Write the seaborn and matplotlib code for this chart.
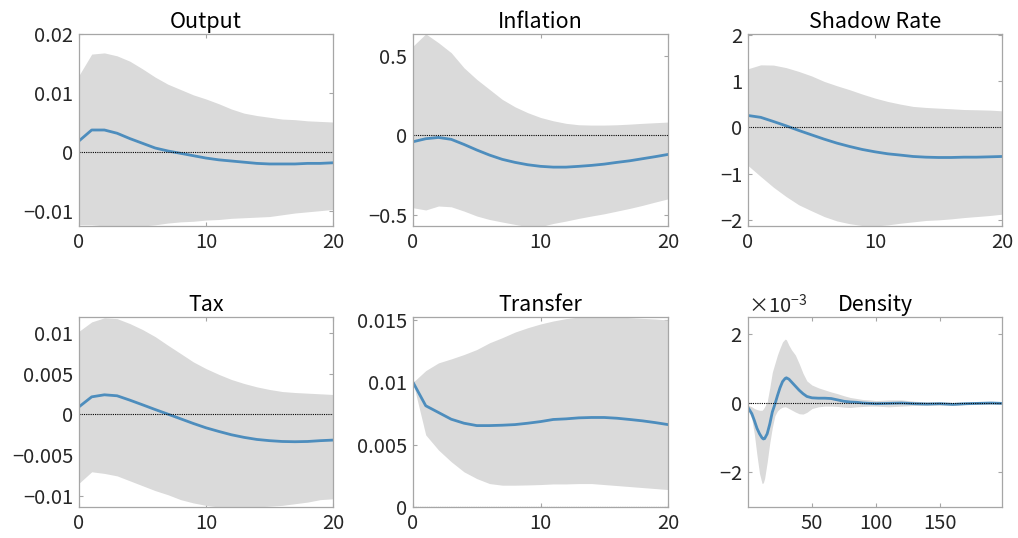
import numpy as np
import pandas as pd
import matplotlib
matplotlib.use("Agg")
import matplotlib.pyplot as plt
from matplotlib.ticker import FuncFormatter, ScalarFormatter
import seaborn as sns

# ---------------------------------------------------------------------------
# Impulse responses: posterior median with 68% credible band, horizons 0..20
# ---------------------------------------------------------------------------
horizon = list(range(21))

output_mid = [0.0019, 0.00375, 0.00375, 0.0032, 0.0023, 0.0015, 0.0007, 0.0002,
              -0.0002, -0.0006, -0.0010, -0.0013, -0.0015, -0.0017, -0.0019,
              -0.0020, -0.0020, -0.0020, -0.0019, -0.0019, -0.0018]
output_hi = [0.0130, 0.0166, 0.0168, 0.0163, 0.0154, 0.0141, 0.0127, 0.0115,
             0.0106, 0.0097, 0.0090, 0.0082, 0.0073, 0.0066, 0.0062, 0.0059,
             0.0056, 0.0055, 0.0053, 0.0052, 0.0051]
output_lo = [-0.0123, -0.0123, -0.0125, -0.0126, -0.0126, -0.0125, -0.0123,
             -0.0120, -0.0118, -0.0117, -0.0115, -0.0114, -0.0112, -0.0111,
             -0.0110, -0.0109, -0.0106, -0.0103, -0.0101, -0.0099, -0.0097]

inflation_mid = [-0.040, -0.021, -0.013, -0.025, -0.057, -0.092, -0.124, -0.151,
                 -0.170, -0.185, -0.195, -0.200, -0.200, -0.195, -0.189, -0.181,
                 -0.170, -0.160, -0.147, -0.134, -0.120]
inflation_hi = [0.563, 0.640, 0.584, 0.521, 0.426, 0.353, 0.290, 0.227, 0.180,
                0.143, 0.113, 0.092, 0.076, 0.067, 0.065, 0.065, 0.067, 0.071,
                0.076, 0.080, 0.084]
inflation_lo = [-0.456, -0.470, -0.445, -0.450, -0.477, -0.508, -0.530, -0.546,
                -0.561, -0.575, -0.575, -0.555, -0.540, -0.523, -0.508, -0.494,
                -0.477, -0.460, -0.441, -0.420, -0.400]

shadow_mid = [0.26, 0.22, 0.13, 0.036, -0.065, -0.16, -0.254, -0.34, -0.413,
              -0.478, -0.529, -0.572, -0.60, -0.63, -0.645, -0.652, -0.652,
              -0.645, -0.645, -0.638, -0.63]
shadow_hi = [1.275, 1.36, 1.355, 1.30, 1.217, 1.12, 1.00, 0.906, 0.82, 0.725,
             0.638, 0.565, 0.507, 0.457, 0.435, 0.42, 0.406, 0.39, 0.384,
             0.377, 0.362]
shadow_lo = [-0.826, -1.065, -1.297, -1.50, -1.68, -1.81, -1.935, -2.03, -2.09,
             -2.13, -2.14, -2.116, -2.08, -2.05, -2.02, -2.007, -1.985, -1.957,
             -1.935, -1.913, -1.884]

tax_mid = [0.00093, 0.00215, 0.0024, 0.00228, 0.00175, 0.00118, 0.0006, 0.00004,
           -0.00053, -0.0011, -0.00163, -0.00207, -0.00248, -0.0028, -0.00305,
           -0.0032, -0.0033, -0.00333, -0.0033, -0.0032, -0.00313]
tax_hi = [0.01016, 0.0113, 0.0118, 0.0117, 0.0111, 0.01037, 0.0095, 0.00845,
          0.00744, 0.00642, 0.0056, 0.0049, 0.00427, 0.00378, 0.00337, 0.00305,
          0.0028, 0.00268, 0.0026, 0.00252, 0.00244]
tax_lo = [-0.0084, -0.0070, -0.0072, -0.0075, -0.0081, -0.0087, -0.0093, -0.0098,
          -0.0104, -0.0108, -0.0111, -0.0113, -0.0114, -0.0114, -0.0113, -0.0112,
          -0.0111, -0.0109, -0.0107, -0.0104, -0.0103]

transfer_mid = [0.0100, 0.00812, 0.00758, 0.00704, 0.00672, 0.00653, 0.00653,
                0.00656, 0.00661, 0.00672, 0.00685, 0.00702, 0.00707, 0.00715,
                0.00718, 0.00718, 0.00712, 0.00702, 0.00691, 0.00677, 0.00661]
transfer_hi = [0.0100, 0.01094, 0.01156, 0.01188, 0.01223, 0.01263, 0.01317,
               0.01358, 0.01403, 0.01438, 0.01468, 0.01492, 0.01511, 0.01524,
               0.01532, 0.01532, 0.01524, 0.01519, 0.01513, 0.01508, 0.0150]
transfer_lo = [0.0100, 0.00578, 0.00457, 0.00363, 0.00282, 0.00228, 0.00188,
               0.00175, 0.00175, 0.00177, 0.0018, 0.00185, 0.00185, 0.00188,
               0.00188, 0.0018, 0.00172, 0.00164, 0.00156, 0.00148, 0.0014]

# Response of the cross-sectional density (units of 1e-3) on its grid
density_x = [0, 3, 5, 7, 9, 11, 12, 13, 15, 17, 19, 21, 23, 25, 27, 29, 30, 32,
             34, 37, 40, 43, 46, 50, 55, 60, 65, 70, 75, 80, 85, 90, 95, 100,
             110, 120, 130, 140, 150, 160, 170, 180, 190, 198]
density_mid = [-0.12, -0.30, -0.50, -0.72, -0.88, -1.00, -1.03, -1.02, -0.88,
               -0.60, -0.25, -0.03, 0.22, 0.45, 0.63, 0.72, 0.74, 0.70, 0.62,
               0.50, 0.38, 0.28, 0.20, 0.16, 0.15, 0.15, 0.14, 0.10, 0.06, 0.04,
               0.03, 0.01, 0.00, -0.01, 0.00, 0.01, -0.01, -0.02, -0.01, -0.03,
               -0.01, 0.00, 0.01, 0.00]
density_hi = [-0.05, -0.10, -0.15, -0.18, -0.20, -0.20, -0.16, -0.10, 0.05,
              0.45, 0.90, 1.15, 1.40, 1.60, 1.78, 1.86, 1.84, 1.68, 1.55, 1.40,
              1.15, 0.87, 0.65, 0.53, 0.45, 0.39, 0.33, 0.28, 0.22, 0.17, 0.14,
              0.11, 0.10, 0.08, 0.10, 0.10, 0.06, 0.04, 0.04, 0.03, 0.03, 0.03,
              0.03, 0.03]
density_lo = [-0.17, -0.45, -0.90, -1.50, -2.03, -2.32, -2.30, -2.17, -1.70,
              -1.15, -0.70, -0.36, -0.22, -0.15, -0.11, -0.10, -0.11, -0.15,
              -0.19, -0.25, -0.30, -0.31, -0.26, -0.15, -0.10, -0.08, -0.08,
              -0.09, -0.11, -0.12, -0.10, -0.09, -0.08, -0.08, -0.10, -0.08,
              -0.06, -0.06, -0.05, -0.06, -0.04, -0.03, -0.03, -0.03]

titles = ["Output", "Inflation", "Shadow Rate", "Tax", "Transfer", "Density"]

# ---------------------------------------------------------------------------
sns.set_theme(style="white")
plt.rcParams["font.family"] = ["Noto Sans CJK JP", "DejaVu Sans"]
plt.rcParams["mathtext.fontset"] = "custom"
plt.rcParams["mathtext.rm"] = "Noto Sans CJK JP"
plt.rcParams["axes.unicode_minus"] = True

LINE = "#4d8dbd"
BAND = "#dadada"
EDGE = "#a6a6a6"
TXT = "#262626"

fig = plt.figure(figsize=(10.18, 5.38), dpi=100)

W, H = 1018.0, 538.0
col_left = [79, 413, 748]
col_w = [254, 255, 254]
row_top = [34, 317]
row_h = [192, 190]


def make_axes(r, c):
    l = col_left[c] / W
    b = 1 - (row_top[r] + row_h[r]) / H
    return fig.add_axes([l, b, col_w[c] / W, row_h[r] / H])


def plain(v, pos):
    s = "%g" % v
    return s.replace("-", "\u2212")


panels = [
    (horizon, output_mid, output_lo, output_hi, (-0.0125, 0.02), [-0.01, 0, 0.01, 0.02]),
    (horizon, inflation_mid, inflation_lo, inflation_hi, (-0.571, 0.639), [-0.5, 0, 0.5]),
    (horizon, shadow_mid, shadow_lo, shadow_hi, (-2.14, 2.03), [-2, -1, 0, 1, 2]),
    (horizon, tax_mid, tax_lo, tax_hi, (-0.0113, 0.0119), [-0.01, -0.005, 0, 0.005, 0.01]),
    (horizon, transfer_mid, transfer_lo, transfer_hi, (0, 0.01524), [0, 0.005, 0.01, 0.015]),
]

density_x_arr = np.asarray(density_x, dtype=float)
panels.append((
    density_x_arr,
    np.asarray(density_mid) * 1e-3,
    np.asarray(density_lo) * 1e-3,
    np.asarray(density_hi) * 1e-3,
    (-3e-3, 2.5e-3),
    [-2e-3, 0, 2e-3],
))

for i, (x, mid, lo, hi, ylim, yticks) in enumerate(panels):
    ax = make_axes(i // 3, i % 3)
    ax.fill_between(x, lo, hi, color=BAND, linewidth=0, zorder=1)
    df = pd.DataFrame({"h": x, "resp": mid})
    sns.lineplot(data=df, x="h", y="resp", ax=ax, color=LINE, linewidth=2.0,
                 zorder=3)
    ax.axhline(0, color="black", linestyle=(0, (1, 1)), linewidth=0.8, zorder=4)

    if i < 5:
        ax.set_xlim(0, 20)
        ax.set_xticks([0, 10, 20])
    else:
        ax.set_xlim(0, 198.5)
        ax.set_xticks([50, 100, 150])
    ax.set_ylim(*ylim)
    ax.set_yticks(yticks)

    if i < 5:
        ax.yaxis.set_major_formatter(FuncFormatter(plain))
    else:
        fmt = ScalarFormatter(useMathText=True)
        fmt.set_powerlimits((-2, 2))
        ax.yaxis.set_major_formatter(fmt)
        ax.yaxis.get_offset_text().set_fontsize(14.5)
        ax.yaxis.get_offset_text().set_color(TXT)

    ax.xaxis.set_major_formatter(FuncFormatter(plain))
    ax.set_xlabel("")
    ax.set_ylabel("")
    ax.set_title(titles[i], fontsize=15.5, color="black", pad=4)

    for sp in ax.spines.values():
        sp.set_color(EDGE)
        sp.set_linewidth(0.9)
        sp.set_zorder(5)
    ax.tick_params(axis="both", which="major", direction="in", length=3,
                   width=0.8, color=EDGE, labelsize=14.5, labelcolor=TXT,
                   top=True, right=True, bottom=True, left=True, pad=4)

fig.savefig("out.png", dpi=100, facecolor="white")
